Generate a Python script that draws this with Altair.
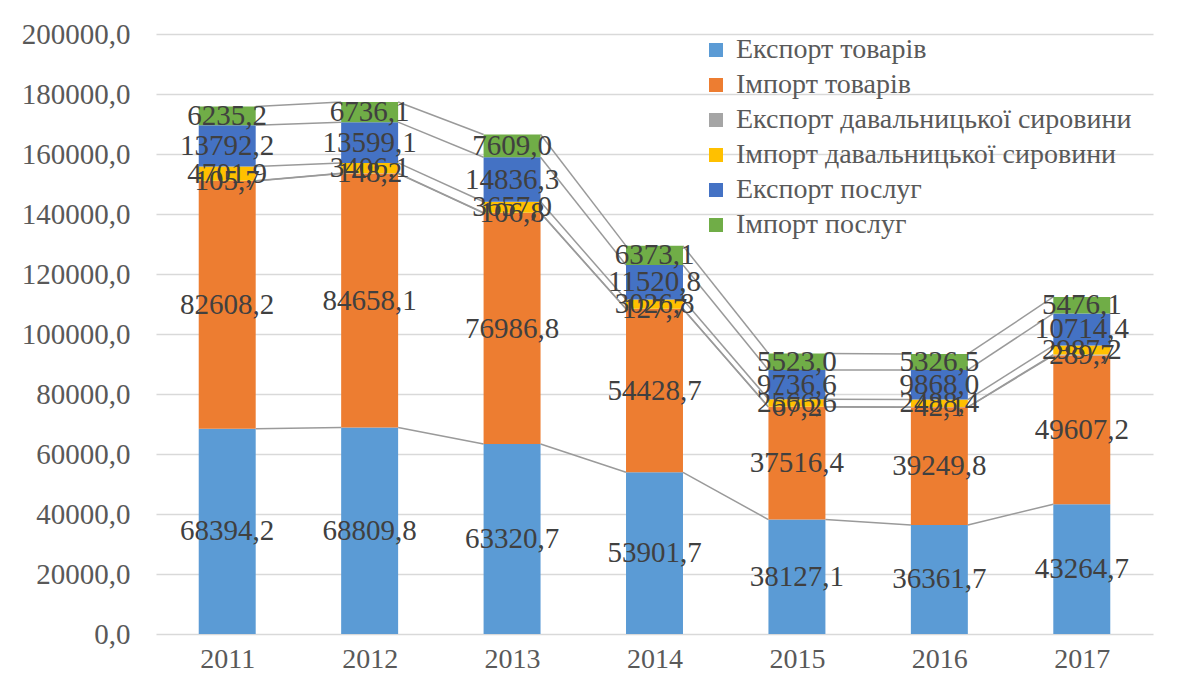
import altair as alt
import pandas as pd

years = [2011, 2012, 2013, 2014, 2015, 2016, 2017]
series = [
    "Експорт товарів",
    "Імпорт товарів",
    "Експорт давальницької сировини",
    "Імпорт давальницької сировини",
    "Експорт послуг",
    "Імпорт послуг",
]
colors = ["#5B9BD5", "#ED7D31", "#A5A5A5", "#FFC000", "#4472C4", "#70AD47"]

export_goods = [68394.2, 68809.8, 63320.7, 53901.7, 38127.1, 36361.7, 43264.7]
import_goods = [82608.2, 84658.1, 76986.8, 54428.7, 37516.4, 39249.8, 49607.2]
export_raw = [105.7, 148.2, 106.8, 127.7, 67.2, 42.1, 289.7]
import_raw = [4701.9, 3406.1, 3657.0, 3026.8, 2566.6, 2488.4, 2987.2]
export_serv = [13792.2, 13599.1, 14836.3, 11520.8, 9736.6, 9868.0, 10714.4]
import_serv = [6235.2, 6736.1, 7609.0, 6373.1, 5523.0, 5326.5, 5476.1]

values = [export_goods, import_goods, export_raw, import_raw, export_serv, import_serv]

HALF = 0.2  # half bar width in band units

rows = []
cums = []
for yi, yr in enumerate(years):
    cum = 0.0
    level = []
    for si, s in enumerate(series):
        v = values[si][yi]
        rows.append({
            "year": yr, "series": s, "order": si, "value": v,
            "start": cum, "end": cum + v, "mid": cum + v / 2,
            "label": f"{v:.1f}".replace(".", ","),
            "x0": yr - HALF, "x1": yr + HALF,
        })
        cum += v
        level.append(cum)
    cums.append(level)
df = pd.DataFrame(rows)

lines = []
for yi in range(len(years) - 1):
    for si in range(len(series)):
        lines.append({
            "xa": years[yi] + HALF, "xb": years[yi + 1] - HALF,
            "ya": cums[yi][si], "yb": cums[yi + 1][si],
        })
ldf = pd.DataFrame(lines)

FONT = "Liberation Serif"

xscale = alt.Scale(domain=[2010.5, 2017.5], nice=False, zero=False)
yscale = alt.Scale(domain=[0, 200000], nice=False)

xaxis = alt.Axis(values=years, format="d", title=None, grid=False, ticks=False,
                 domain=False, labelFont=FONT, labelFontSize=28, labelColor="#595959",
                 labelPadding=11)
yaxis = alt.Axis(values=list(range(0, 200001, 20000)), title=None, ticks=False, domain=False,
                 labelExpr="replace(format(datum.value, '.1f'), '.', ',')",
                 labelFont=FONT, labelFontSize=29, labelColor="#595959", labelPadding=26,
                 gridColor="#D9D9D9", gridWidth=1.5)

rules = alt.Chart(ldf).mark_rule(color="#9A9A9A", strokeWidth=1.5).encode(
    x=alt.X("xa:Q", scale=xscale, axis=xaxis),
    x2="xb:Q",
    y=alt.Y("ya:Q", scale=yscale, axis=yaxis),
    y2="yb:Q",
)

bars = alt.Chart(df).mark_bar().encode(
    x=alt.X("x0:Q", scale=xscale),
    x2="x1:Q",
    y=alt.Y("start:Q", scale=yscale),
    y2="end:Q",
    color=alt.Color("series:N", scale=alt.Scale(domain=series, range=colors),
                    sort=series,
                    legend=alt.Legend(title=None, orient="none", legendX=546, legendY=2,
                                      symbolType="square", symbolSize=196,
                                      symbolStrokeWidth=0,
                                      labelFont=FONT, labelFontSize=28,
                                      labelColor="#595959", rowPadding=7,
                                      labelOffset=6, padding=0, labelLimit=700)),
)

labels = alt.Chart(df).mark_text(font=FONT, fontSize=29, color="#404040",
                                 baseline="middle", align="center").encode(
    x=alt.X("year:Q", scale=xscale),
    y=alt.Y("mid:Q", scale=yscale),
    text="label:N",
)

chart = alt.layer(rules, bars, labels).properties(
    width=997, height=600,
    autosize=alt.AutoSizeParams(type="none"),
    padding={"left": 148, "top": 26, "right": 30, "bottom": 50},
    background="white",
).configure_view(stroke=None)

chart.save("out.html", embed_options={"renderer": "svg", "actions": False})
